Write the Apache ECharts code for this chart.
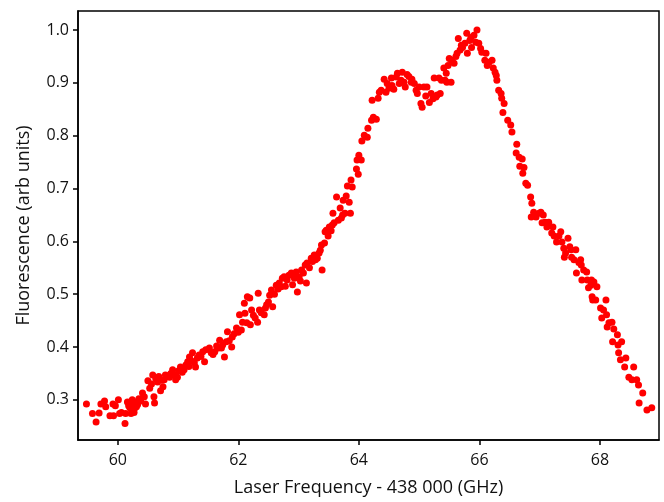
<!DOCTYPE html>
<html>
<head>
<meta charset="utf-8">
<script src="https://cdn.jsdelivr.net/npm/echarts@6/dist/echarts.min.js"></script>
<style>html,body{margin:0;padding:0;background:#fff}#c{width:664px;height:502px}</style>
</head>
<body>
<div id="c"></div>
<script>
const xTicks = [60, 62, 64, 66, 68];
const yTicks = [0.3, 0.4, 0.5, 0.6, 0.7, 0.8, 0.9, 1.0];
const xName = 'Laser Frequency - 438 000 (GHz)';
const yName = 'Fluorescence (arb units)';
const freq = [
59.48,59.58,59.64,59.69,59.72,59.78,59.80,59.87,59.92,59.93,59.96,60.01,60.03,60.06,60.12,60.13,60.16,60.18,60.20,60.22,
60.24,60.25,60.27,60.28,60.30,60.31,60.33,60.35,60.38,60.41,60.44,60.46,60.50,
60.53,60.56,60.58,60.60,60.61,60.63,60.66,60.68,60.71,60.73,60.75,60.77,60.79,60.82,60.86,60.88,60.91,60.94,60.96,60.99,
61.01,61.04,61.07,61.10,61.13,61.16,61.18,61.19,61.22,61.24,61.27,61.29,61.32,61.35,61.38,61.41,61.44,61.46,
61.52,61.55,61.58,61.61,61.64,61.67,61.69,61.72,61.74,61.77,61.80,61.82,61.85,61.89,61.90,61.93,61.97,62.00,
62.02,62.05,62.07,62.10,62.11,62.14,62.15,62.19,62.20,62.22,62.25,62.28,62.32,62.33,62.35,62.38,62.43,62.45,62.47,62.50,
62.52,62.55,62.57,62.60,62.63,62.66,62.68,62.71,62.73,62.76,62.78,62.81,62.84,62.88,62.90,62.93,62.96,62.98,
63.01,63.03,63.05,63.08,63.11,63.13,63.14,63.18,63.21,63.23,63.26,63.28,63.31,63.34,63.36,63.38,63.39,63.43,63.44,63.46,
63.49,63.51,63.54,63.56,63.57,63.59,63.63,63.66,63.69,63.71,63.73,63.74,63.77,63.79,63.81,63.84,63.86,63.87,63.89,
63.96,63.97,63.99,64.00,64.04,64.05,64.09,64.14,64.15,64.21,64.22,64.24,64.29,64.32,64.34,64.37,64.42,64.45,64.47,64.50,
64.54,64.55,64.58,64.62,64.64,64.67,64.70,64.72,64.75,64.77,64.80,64.83,64.87,64.88,64.92,64.95,64.97,
65.00,65.03,65.05,65.08,65.11,65.13,65.17,65.20,65.23,65.25,65.28,65.30,65.33,65.35,65.37,65.41,65.43,65.45,65.46,65.48,
65.50,65.53,65.54,65.58,65.61,65.63,65.65,65.68,65.70,65.72,65.76,65.79,65.80,65.84,65.86,65.87,65.91,65.94,65.96,65.99,
66.02,66.04,66.09,66.11,66.13,66.16,66.21,66.23,66.26,66.28,66.29,66.32,66.36,66.37,66.39,66.41,66.47,66.52,66.54,
66.61,66.62,66.66,66.67,66.71,66.72,66.74,66.77,66.80,66.85,66.86,66.87,66.90,66.94,66.99,
67.02,67.04,67.06,67.09,67.10,67.12,67.15,67.20,67.22,67.24,67.28,67.32,67.35,67.37,67.40,67.41,67.43,67.47,67.50,
67.52,67.53,67.57,67.60,67.61,67.65,67.68,67.69,67.70,67.73,67.78,67.79,67.81,67.85,67.86,67.87,67.88,67.90,67.93,67.95,
68.01,68.03,68.06,68.10,68.11,68.12,68.15,68.20,68.21,68.23,68.29,68.30,68.31,68.34,68.36,68.41,68.43,68.48,
68.53,68.56,68.61,68.64,68.65,68.71,68.78,68.86
];
const fluor = [
0.292,0.274,0.258,0.275,0.292,0.298,0.287,0.270,0.292,0.270,0.289,0.300,0.274,0.276,0.255,0.274,0.296,0.289,0.285,0.274,
0.300,0.293,0.276,0.284,0.296,0.287,0.291,0.302,0.298,0.313,0.306,0.292,0.336,
0.322,0.330,0.347,0.306,0.294,0.340,0.334,0.344,0.317,0.337,0.325,0.338,0.347,0.345,0.343,0.350,0.357,0.348,0.338,0.343,
0.355,0.362,0.352,0.357,0.366,0.372,0.363,0.381,0.374,0.389,0.370,0.362,0.379,0.385,0.382,0.391,0.372,0.395,
0.398,0.389,0.386,0.391,0.402,0.398,0.413,0.398,0.404,0.381,0.410,0.429,0.412,0.400,0.419,0.425,0.436,0.428,
0.461,0.432,0.447,0.483,0.464,0.446,0.495,0.493,0.442,0.470,0.460,0.455,0.447,0.502,0.470,0.465,0.461,0.474,0.480,0.485,
0.498,0.508,0.476,0.500,0.517,0.510,0.521,0.514,0.530,0.533,0.515,0.527,0.536,0.540,0.518,0.530,0.542,0.504,
0.533,0.525,0.546,0.540,0.555,0.521,0.559,0.550,0.568,0.562,0.574,0.565,0.568,0.578,0.583,0.593,0.546,0.597,0.618,0.621,
0.610,0.627,0.620,0.631,0.653,0.635,0.684,0.640,0.663,0.644,0.650,0.678,0.653,0.686,0.705,0.674,0.653,0.716,0.703,
0.737,0.754,0.727,0.763,0.754,0.790,0.801,0.797,0.814,0.829,0.867,0.835,0.831,0.871,0.882,0.886,0.907,0.882,0.899,0.890,
0.909,0.895,0.888,0.911,0.918,0.899,0.905,0.920,0.901,0.892,0.916,0.912,0.901,0.907,0.899,0.886,0.880,
0.892,0.861,0.854,0.892,0.875,0.892,0.863,0.880,0.870,0.909,0.873,0.877,0.909,0.880,0.905,0.928,0.905,0.918,0.901,0.933,
0.946,0.901,0.943,0.937,0.950,0.956,0.984,0.962,0.971,0.967,0.975,0.994,0.956,0.980,0.986,0.967,0.990,0.977,1.000,0.975,
0.965,0.958,0.943,0.956,0.933,0.939,0.943,0.928,0.920,0.914,0.905,0.886,0.880,0.871,0.844,0.861,0.829,0.820,0.807,
0.767,0.784,0.759,0.742,0.756,0.729,0.740,0.710,0.706,0.684,0.646,0.672,0.655,0.646,0.653,
0.655,0.635,0.650,0.636,0.635,0.627,0.636,0.616,0.627,0.610,0.599,0.610,0.618,0.599,0.587,0.570,0.578,0.606,0.590,
0.584,0.570,0.565,0.584,0.540,0.560,0.565,0.555,0.527,0.546,0.542,0.527,0.512,0.517,0.527,0.495,0.489,0.523,0.489,0.514,
0.474,0.455,0.470,0.489,0.461,0.438,0.446,0.447,0.410,0.434,0.423,0.404,0.389,0.376,0.410,0.362,0.379,0.343,
0.338,0.362,0.338,0.328,0.294,0.313,0.281,0.285
];

const points = freq.map((f, i) => [f, fluor[i]]);
const FONT = '"Open Sans", Lato, sans-serif';
const chart = echarts.init(document.getElementById('c'), null, {renderer: 'canvas'});
chart.setOption({
  animation: false,
  backgroundColor: '#fff',
  grid: {left: 78, right: 5, top: 11, bottom: 62, show: true, borderColor: '#000', borderWidth: 1.5, backgroundColor: 'transparent'},
  xAxis: {
    type: 'value', min: 59.34, max: 68.98,
    name: xName, nameLocation: 'middle', nameGap: 39,
    nameTextStyle: {fontFamily: FONT, fontSize: 18, color: '#111'},
    axisLine: {show: true, onZero: false, lineStyle: {color: '#000', width: 1.5}},
    axisTick: {show: true, inside: false, length: 5, lineStyle: {color: '#000', width: 1.5}, customValues: xTicks},
    axisLabel: {fontFamily: FONT, fontSize: 16, color: '#111', margin: 12, customValues: xTicks, formatter: v => String(v)},
    splitLine: {show: false}
  },
  yAxis: {
    type: 'value', min: 0.224, max: 1.036,
    name: yName, nameLocation: 'middle', nameGap: 45,
    nameTextStyle: {fontFamily: FONT, fontSize: 18, color: '#111'},
    axisLine: {show: true, onZero: false, lineStyle: {color: '#000', width: 1.5}},
    axisTick: {show: true, inside: false, length: 5, lineStyle: {color: '#000', width: 1.5}, customValues: yTicks},
    axisLabel: {fontFamily: FONT, fontSize: 16, color: '#111', margin: 9, customValues: yTicks, formatter: v => v.toFixed(1)},
    splitLine: {show: false}
  },
  series: [{
    type: 'scatter', data: points, symbol: 'circle', symbolSize: 7,
    itemStyle: {color: '#ff0000', opacity: 1}, silent: true
  }]
});
</script>
</body>
</html>
